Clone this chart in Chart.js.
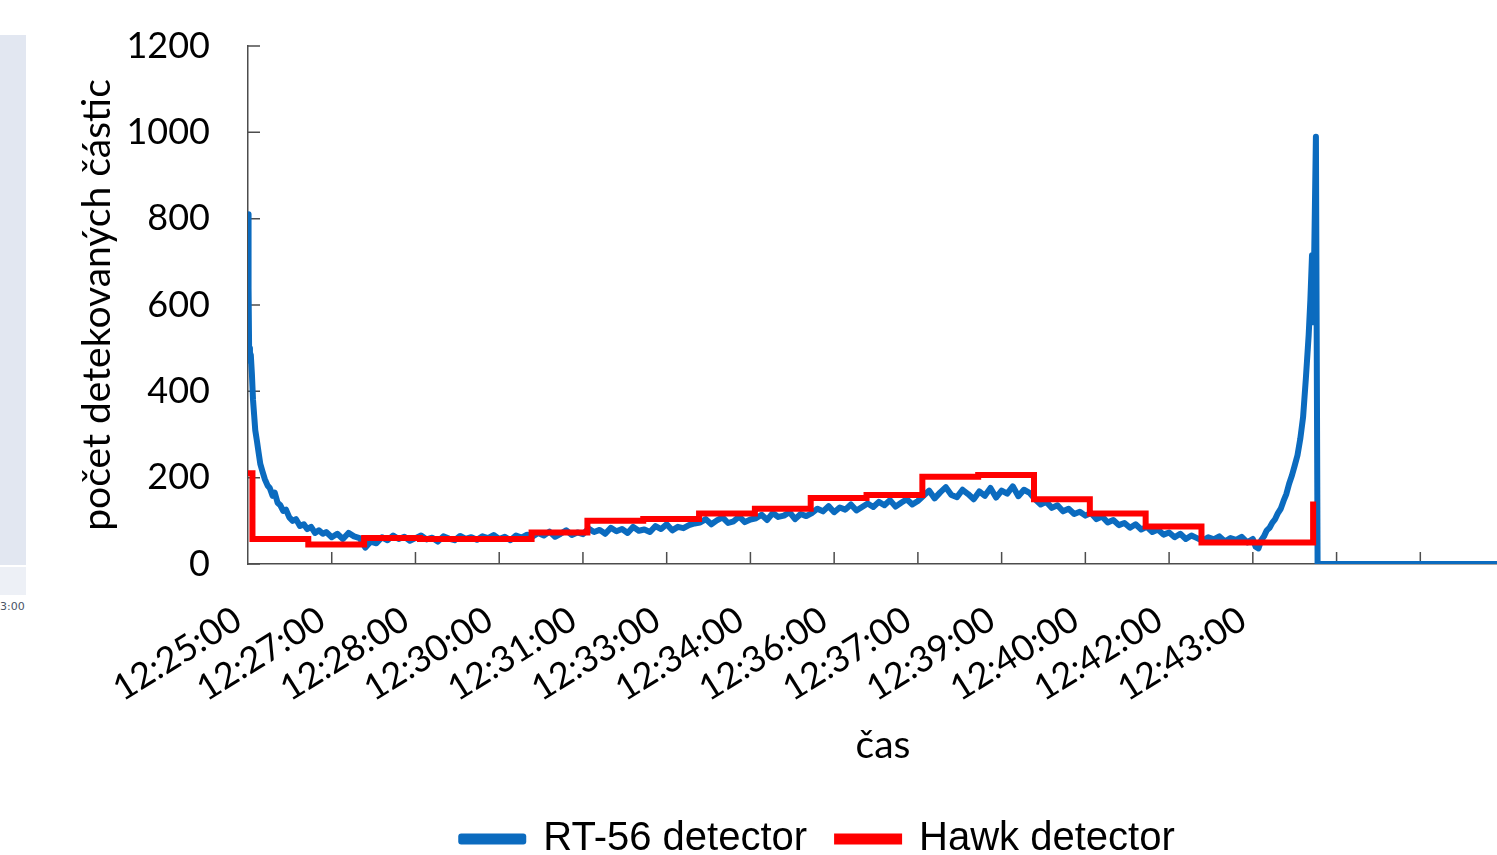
<!DOCTYPE html>
<html>
<head>
<meta charset="utf-8">
<script src="https://cdn.jsdelivr.net/npm/chart.js@4.4.0/dist/chart.umd.min.js"></script>
<style>
  html, body { margin: 0; padding: 0; background: #fff; overflow: hidden; }
  #wrap { position: relative; width: 1497px; height: 855px; overflow: hidden; }
  #chart { position: absolute; left: 0; top: 0; }
  /* cropped piece of a neighbouring picture on the left edge */
  .side { position: absolute; left: 0; width: 26px; }
  #sideTop { top: 35px; height: 530px; background: #e2e7f1; }
  #sideBottom { top: 567px; height: 28px; background: #edf0f6; }
  #sideText { position: absolute; left: 0; top: 600px; font: 11px "DejaVu Sans", sans-serif; color: #4a5466; }
</style>
</head>
<body>
<div id="wrap">
  <div class="side" id="sideTop"></div>
  <div class="side" id="sideBottom"></div>
  <div id="sideText">3:00</div>
  <canvas id="chart" width="1630" height="866"></canvas>
</div>
<script>
// x values are minutes after 12:25:00
const xTickMinutes = [0, 1.5, 3, 4.5, 6, 7.5, 9, 10.5, 12, 13.5, 15, 16.5, 18, 19.5, 21, 22.5];
const xTickLabels = ['12:25:00', '12:27:00', '12:28:00', '12:30:00', '12:31:00', '12:33:00', '12:34:00',
  '12:36:00', '12:37:00', '12:39:00', '12:40:00', '12:42:00', '12:43:00', '', '', ''];

const yTicks = [0, 200, 400, 600, 800, 1000, 1200];
const yTickLabels = ['0', '200', '400', '600', '800', '1000', '1200'];

// RT-56 detector
const blueTime = [
  0, 0.01, 0.02, 0.035, 0.05, 0.07, 0.09, 0.11, 0.13, 0.16, 0.19, 0.22, 0.26, 0.3, 0.35, 0.39,
  0.44, 0.48, 0.53, 0.58, 0.63, 0.68, 0.74, 0.8, 0.86, 0.93, 1.0, 1.06, 1.13, 1.2, 1.27, 1.34,
  1.4, 1.5, 1.6, 1.7, 1.8, 1.9, 2.0, 2.1, 2.2, 2.3, 2.4, 2.5, 2.6, 2.7, 2.8, 2.9, 3.0,
  3.1, 3.2, 3.3, 3.4, 3.5, 3.6, 3.7, 3.8, 3.9, 4.0,
  4.1, 4.2, 4.3, 4.4, 4.5, 4.6, 4.7, 4.8, 4.9, 5.0,
  5.1, 5.2, 5.3, 5.4, 5.5, 5.6, 5.7, 5.8, 5.9, 6.0,
  6.1, 6.2, 6.3, 6.4, 6.5, 6.6, 6.7, 6.8, 6.9, 7.0,
  7.1, 7.2, 7.3, 7.4, 7.5, 7.6, 7.7, 7.8, 7.9, 8.0,
  8.1, 8.2, 8.3, 8.4, 8.5, 8.6, 8.7, 8.8, 8.9, 9.0,
  9.1, 9.2, 9.3, 9.4, 9.5, 9.6, 9.7, 9.8, 9.9, 10.0,
  10.1, 10.2, 10.3, 10.4, 10.5, 10.6, 10.7, 10.8, 10.9, 11.0,
  11.1, 11.2, 11.3, 11.4, 11.5, 11.6, 11.7, 11.8, 11.9, 12.0,
  12.1, 12.2, 12.3, 12.4, 12.5, 12.6, 12.7, 12.8, 12.9, 13.0,
  13.1, 13.2, 13.3, 13.4, 13.5, 13.6, 13.7, 13.8, 13.9, 14.0,
  14.1, 14.2, 14.3, 14.4, 14.5, 14.6, 14.7, 14.8, 14.9, 15.0,
  15.1, 15.2, 15.3, 15.4, 15.5, 15.6, 15.7, 15.8, 15.9, 16.0,
  16.1, 16.2, 16.3, 16.4, 16.5, 16.6, 16.7, 16.8, 16.9, 17.0,
  17.1, 17.2, 17.3, 17.4, 17.5, 17.6, 17.7, 17.8, 17.9, 18.0,
  18.05, 18.1, 18.15, 18.2,
  18.25, 18.3, 18.35, 18.4, 18.45, 18.5, 18.55, 18.6, 18.65, 18.7, 18.75, 18.8, 18.85, 18.9, 18.95, 19.0,
  19.03, 19.06, 19.08, 19.1, 19.13, 19.16, 22.75
];
const blueCount = [
  810, 640, 500, 470, 485, 440, 380, 345, 310, 285, 258, 232, 214, 197, 182, 176,
  158, 165, 142, 136, 123, 126, 108, 100, 104, 88, 92, 81, 86, 72, 78, 70,
  74, 62, 70, 58, 72, 64, 60, 38, 52, 48, 62, 55, 66, 58, 63, 54, 60,
  66, 57, 61, 52, 64, 59, 55, 65, 58, 62,
  56, 64, 60, 67, 58, 63, 55, 66, 61, 68,
  64, 72, 66, 75, 63, 70, 78, 67, 73, 69,
  82, 74, 79, 70, 84, 76, 81, 72, 86, 77,
  80, 74, 88, 81, 92, 78, 86, 83, 90, 94,
  96, 104, 92, 101, 108, 95, 99, 110, 97, 103,
  106, 114, 102, 118, 109, 112, 120, 104, 116, 111,
  118, 128, 122, 134, 120, 131, 126, 138, 124, 132,
  140, 132, 144, 136, 148, 133, 142, 150, 138, 146,
  158, 170, 152, 166, 178, 160, 155, 172, 162, 150,
  168, 158, 176, 154, 170, 163, 180, 157, 172, 165,
  150, 138, 144, 130, 136, 122, 128, 116, 121, 112,
  118, 104, 110, 96, 102, 90, 95, 84, 92, 80,
  86, 74, 80, 68, 73, 62, 70, 58, 66, 60,
  54, 62, 57, 64, 52, 60, 56, 63, 50, 58,
  40, 36, 55, 64,
  78, 84, 96, 104, 118, 128, 146, 162, 186, 205, 228, 252, 290, 340, 430, 530,
  610, 715, 560, 720, 990, 0, 0
];

// Hawk detector (per-minute counts, level starts at each time)
const redTime = [0, 0.08, 1.08, 2.08, 3.08, 4.08, 5.08, 6.08, 7.08, 8.08, 9.08, 10.08, 11.08,
  12.08, 13.08, 14.08, 15.08, 16.08, 17.08, 18.08, 19.08];
const redCount = [210, 58, 45, 60, 58, 58, 73, 100, 104, 117, 128, 153, 160,
  202, 206, 150, 117, 87, 50, 50, 145];

const axisColor = '#4d4d4d';
const tickFont = { family: 'Lato', size: 36 };
const titleFont = { family: 'Lato', size: 39 };

const innerTicks = {
  id: 'innerTicks',
  beforeDatasetsDraw(chart) {
    const { ctx, chartArea, scales: { x, y } } = chart;
    ctx.save();
    ctx.strokeStyle = axisColor;
    ctx.lineWidth = 1.5;
    ctx.beginPath();
    x.ticks.forEach(t => {
      const px = x.getPixelForValue(t.value);
      if (px > chartArea.left + 2) {
        ctx.moveTo(px, chartArea.bottom);
        ctx.lineTo(px, chartArea.bottom - 12);
      }
    });
    y.ticks.forEach(t => {
      const py = y.getPixelForValue(t.value);
      ctx.moveTo(chartArea.left, py);
      ctx.lineTo(chartArea.left + 12, py);
    });
    ctx.stroke();
    ctx.restore();
  }
};

// the legend in the original sits centred on the whole picture, not on the plot
const legendShift = {
  id: 'legendShift',
  afterLayout(chart) {
    const lg = chart.legend;
    lg.left += 59; lg.right += 59;
    lg.top += 3; lg.bottom += 3;
  }
};

new Chart(document.getElementById('chart'), {
  type: 'line',
  data: {
    datasets: [
      {
        label: 'RT-56 detector',
        data: blueTime.map((t, i) => ({ x: t, y: blueCount[i] })),
        borderColor: '#0b6bbf',
        backgroundColor: '#0b6bbf',
        borderWidth: 6,
        borderJoinStyle: 'round',
        pointRadius: 0,
        order: 2
      },
      {
        label: 'Hawk detector',
        data: redTime.map((t, i) => ({ x: t, y: redCount[i] })),
        borderColor: '#ff0000',
        backgroundColor: '#ff0000',
        borderWidth: 6,
        pointRadius: 0,
        stepped: true,
        order: 1
      }
    ]
  },
  options: {
    responsive: false,
    animation: false,
    devicePixelRatio: 1,
    layout: { padding: { left: 0, right: 112, top: 46, bottom: 0 } },
    scales: {
      x: {
        type: 'linear',
        min: 0,
        max: 22.75,
        afterBuildTicks: scale => { scale.ticks = xTickMinutes.map(v => ({ value: v })); },
        afterFit: scale => { scale.height = 222; },
        grid: { display: true, drawOnChartArea: false, drawTicks: false },
        border: { display: true, color: axisColor, width: 1.5 },
        ticks: {
          autoSkip: false,
          minRotation: 32,
          maxRotation: 32,
          padding: 34,
          labelOffset: -10,
          color: '#000',
          font: tickFont,
          callback: (v, i) => xTickLabels[i] ?? ''
        },
        title: {
          display: true,
          text: 'čas',
          color: '#000',
          font: titleFont,
          padding: { top: 0, bottom: 17 }
        }
      },
      y: {
        min: 0,
        max: 1200,
        afterBuildTicks: scale => { scale.ticks = yTicks.map(v => ({ value: v })); },
        afterFit: scale => { scale.width = 248; },
        grid: { display: true, drawOnChartArea: false, drawTicks: true, tickLength: 38, tickColor: 'rgba(0,0,0,0)' },
        border: { display: true, color: axisColor, width: 1.5 },
        ticks: {
          padding: 0,
          color: '#000',
          font: tickFont,
          callback: (v, i) => yTickLabels[i]
        },
        title: {
          display: true,
          text: 'počet detekovaných částic',
          color: '#000',
          font: titleFont,
          padding: { top: 74, bottom: 0 }
        }
      }
    },
    plugins: {
      tooltip: { enabled: false },
      legend: {
        display: true,
        position: 'bottom',
        labels: {
          boxWidth: 62,
          boxHeight: 5,
          padding: 30,
          color: '#000',
          font: { family: 'Liberation Sans', size: 40 },
          sort: (a, b) => a.datasetIndex - b.datasetIndex
        }
      }
    }
  },
  plugins: [innerTicks, legendShift]
});
</script>
</body>
</html>
